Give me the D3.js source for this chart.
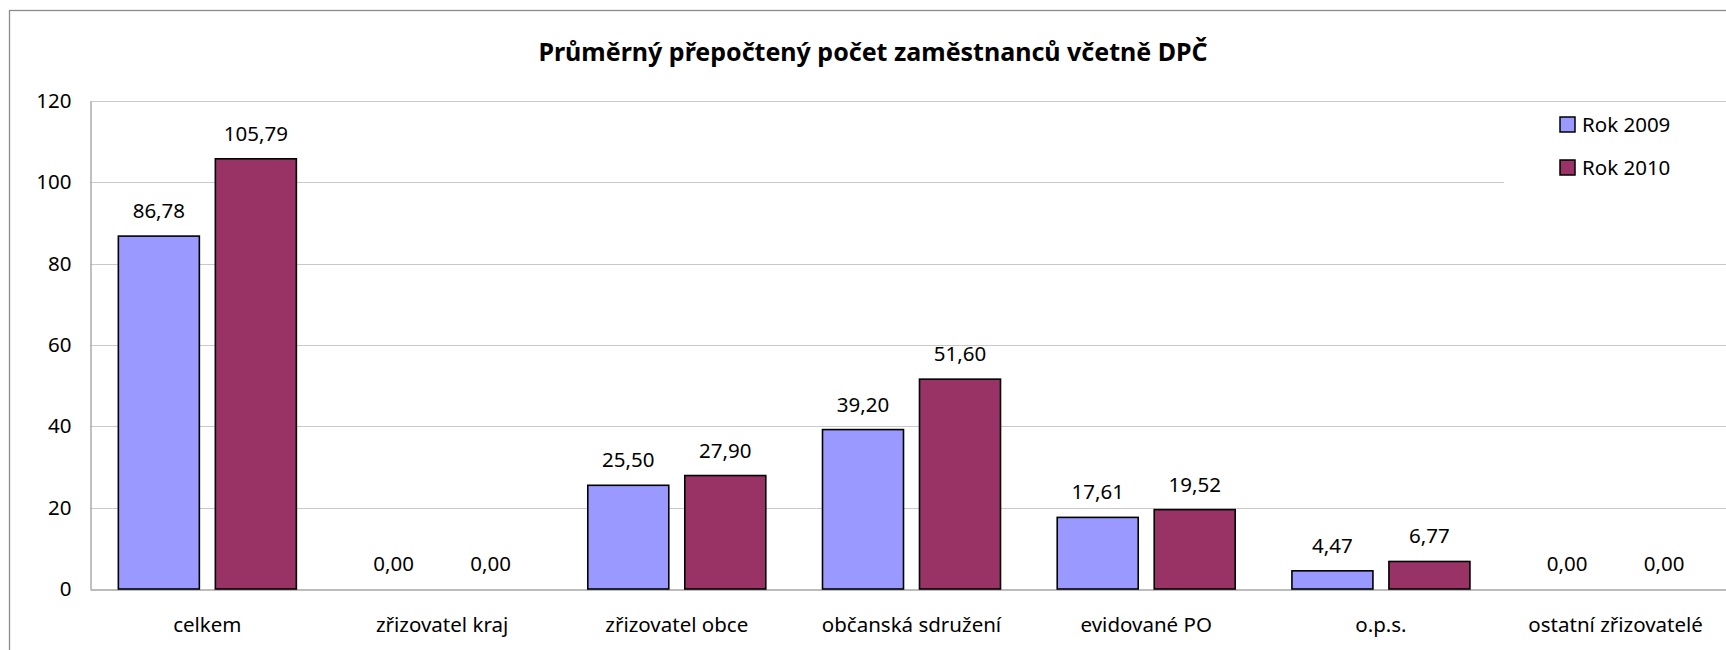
<!DOCTYPE html>
<html><head><meta charset="utf-8">
<script src="https://cdn.jsdelivr.net/npm/d3@7"></script>
<style>html,body{margin:0;padding:0;background:#fff;overflow:hidden}svg{display:block}text{font-family:"Noto Sans","Open Sans",sans-serif;fill:#000}</style>
</head><body>
<svg id="c" width="1726" height="650"></svg>
<script>
const title = "Průměrný přepočtený počet zaměstnanců včetně DPČ";
const categories = ["celkem","zřizovatel kraj","zřizovatel obce","občanská sdružení","evidované PO","o.p.s.","ostatní zřizovatelé"];
const seriesNames = ["Rok 2009","Rok 2010"];
const values2009 = [86.78, 0, 25.50, 39.20, 17.61, 4.47, 0];
const values2010 = [105.79, 0, 27.90, 51.60, 19.52, 6.77, 0];
const yTicks = [0,20,40,60,80,100,120];
const colors = ["#9999FF","#993366"];

(function(){
const svg = d3.select("#c");
const pLeft = 90, pRight = 1733, pTop = 101, pBottom = 589;
const fs = "20.5px";

svg.append("rect").attr("x",9.5).attr("y",10.5).attr("width",1800).attr("height",700)
  .attr("fill","#fff").attr("stroke","#8c8c8c").attr("stroke-width",1.3);

const x = d3.scaleBand().domain(categories).range([pLeft,pRight]);
const y = d3.scaleLinear().domain([0,120]).range([pBottom,pTop]);
const bw = 81, gap = 16;

svg.append("g").selectAll("line").data(yTicks.filter(d=>d>0)).join("line")
  .attr("x1",pLeft).attr("x2",1726).attr("y1",d=>Math.round(y(d))+0.5).attr("y2",d=>Math.round(y(d))+0.5)
  .attr("stroke","#c9c9c9").attr("stroke-width",1.2);

const yAxis = d3.axisLeft(y).tickValues(yTicks).tickSize(0).tickPadding(19).tickFormat(d3.format("d"));
const ga = svg.append("g").attr("transform",`translate(${pLeft+0.5},0)`).call(yAxis);
ga.select(".domain").attr("stroke","#a6a6a6").attr("stroke-width",1.4);
ga.selectAll("text").style("font-size",fs).style("font-family",'"Noto Sans","Open Sans",sans-serif').attr("fill","#000");

const xAxis = d3.axisBottom(x).tickSize(0).tickPadding(28);
const gx = svg.append("g").attr("transform",`translate(0,${pBottom+0.5})`).call(xAxis);
gx.select(".domain").attr("stroke","#a6a6a6").attr("stroke-width",1.4);
gx.selectAll("text").style("font-size",fs).style("font-family",'"Noto Sans","Open Sans",sans-serif').attr("fill","#000");

const data = categories.map((c,i)=>({c, vals:[values2009[i], values2010[i]]}));
const groupOffset = (x.bandwidth() - (2*bw+gap))/2;
const g = svg.append("g").selectAll("g").data(data).join("g")
  .attr("transform",d=>`translate(${x(d.c)+groupOffset},0)`);
const bars = g.selectAll("g.b").data(d=>d.vals.map((v,j)=>({v, s:seriesNames[j], j}))).join("g").attr("class","b");
bars.filter(d=>d.v>0).append("rect")
  .attr("x",d=>d.j*(bw+gap)).attr("width",bw)
  .attr("y",d=>y(d.v)).attr("height",d=>y(0)-y(d.v))
  .attr("fill",d=>colors[d.j]).attr("stroke","#000").attr("stroke-width",1.6);
bars.append("text")
  .attr("x",d=>d.j*(bw+gap)+bw/2).attr("y",d=>y(d.v)-18)
  .attr("text-anchor","middle").style("font-size",fs)
  .text(d=>d3.format(".2f")(d.v).replace(".",","));

svg.append("text").attr("x",873).attr("y",61).attr("text-anchor","middle")
  .style("font-size","25px").style("font-weight","bold").text(title);

const lg = svg.append("g");
lg.append("rect").attr("x",1504).attr("y",102).attr("width",230).attr("height",110).attr("fill","#fff");
const li = lg.selectAll("g").data(seriesNames).join("g")
  .attr("transform",(d,i)=>`translate(1560,${117+i*43})`);
li.append("rect").attr("width",15).attr("height",15).attr("fill",(d,i)=>colors[i]).attr("stroke","#000").attr("stroke-width",1.5);
li.append("text").attr("x",22).attr("y",15).style("font-size",fs).text(d=>d);
})();
</script>
</body></html>
